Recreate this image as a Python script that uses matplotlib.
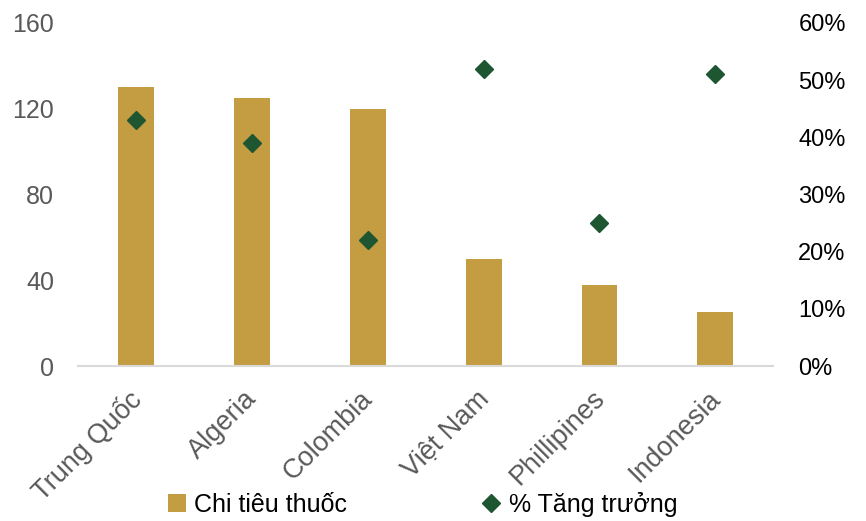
import matplotlib.pyplot as plt
from matplotlib.ticker import FuncFormatter
import matplotlib.transforms as mtransforms
import numpy as np

countries = ["Trung Quốc", "Algeria", "Colombia", "Việt Nam", "Phillipines", "Indonesia"]
spending = [130, 125, 120, 50, 38, 25]
growth = [43, 39, 22, 52, 25, 51]

bar_color = "#C49C42"
marker_color = "#1E5631"

plt.rcParams['font.family'] = ['Liberation Sans', 'DejaVu Sans']

fig = plt.figure(figsize=(8.66, 5.21), dpi=100)
ax = fig.add_axes([0.090, 0.2975, 0.803, 0.6585])
x = np.arange(len(countries))

b = ax.bar(x, spending, width=0.31, color=bar_color, label="Chi tiêu thuốc", zorder=2)
ax.set_xlim(-0.5, len(countries) - 0.5)
ax.set_ylim(0, 160)
ax.set_yticks([0, 40, 80, 120, 160])
ax.tick_params(axis='y', length=0, labelsize=18, labelcolor="#595959", pad=17)
ax.set_xticks(x)
ax.set_xticklabels(countries, rotation=45, ha='right', rotation_mode='anchor',
                   fontsize=19.5, color="#595959")
ax.tick_params(axis='x', length=0, pad=14)
shift = mtransforms.ScaledTranslation(-8 / 100, 0, fig.dpi_scale_trans)
for lbl in ax.get_xticklabels():
    lbl.set_transform(lbl.get_transform() + shift)
for s in ["top", "right", "left"]:
    ax.spines[s].set_visible(False)
ax.spines["bottom"].set_color("#D9D9D9")
ax.spines["bottom"].set_linewidth(1.5)

ax2 = ax.twinx()
m, = ax2.plot(x, growth, linestyle="none", marker="D", markersize=9,
              color=marker_color, label="% Tăng trưởng", zorder=3)
ax2.set_ylim(0, 60)
ax2.set_yticks([0, 10, 20, 30, 40, 50, 60])
ax2.yaxis.set_major_formatter(FuncFormatter(lambda v, p: f"{v:.0f}%"))
ax2.tick_params(axis='y', length=0, labelsize=17, labelcolor="black", pad=18)
for s in ["top", "right", "left", "bottom"]:
    ax2.spines[s].set_visible(False)

fig.legend([b, m], ["Chi tiêu thuốc", "% Tăng trưởng"], loc="center",
           bbox_to_anchor=(0.488, 0.032), ncol=2, frameon=False, fontsize=18,
           columnspacing=5.4, handlelength=0.7, handletextpad=0.35)

fig.savefig("out.png", dpi=100)
